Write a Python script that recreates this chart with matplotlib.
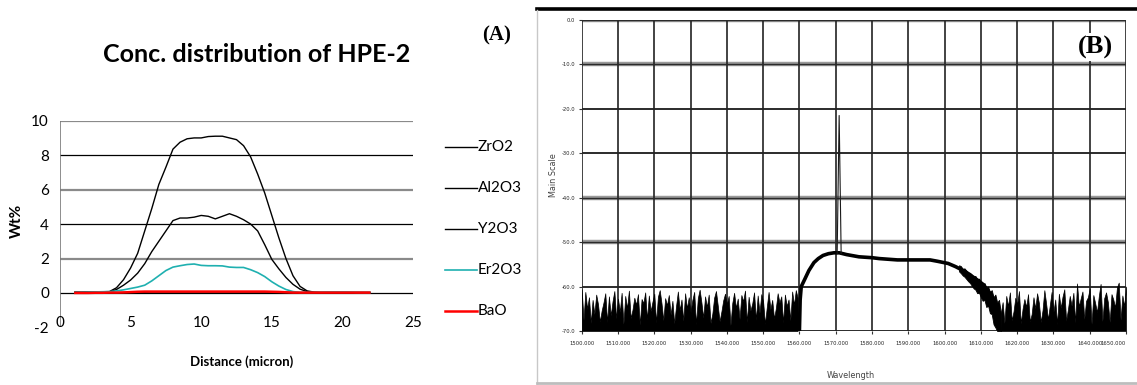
import matplotlib
matplotlib.use('Agg')
import matplotlib.pyplot as plt
from matplotlib.lines import Line2D
from matplotlib import font_manager
from matplotlib.transforms import ScaledTranslation

# ---------------- Panel A data ----------------
distance = [1.0, 1.5, 2.0, 2.5, 3.0, 3.5, 4.0, 4.5, 5.0, 5.5, 6.0, 6.5, 7.0, 7.5,
            8.0, 8.5, 9.0, 9.5, 10.0, 10.5, 11.0, 11.5, 12.0, 12.5, 13.0, 13.5,
            14.0, 14.5, 15.0, 15.5, 16.0, 16.5, 17.0, 17.5, 18.0, 18.5, 19.0,
            19.5, 20.0, 20.5, 21.0, 21.5, 22.0]
zro2 = [0.05, 0.05, 0.06, 0.06, 0.07, 0.08, 0.30, 0.77, 1.45, 2.3, 3.6, 4.9, 6.3, 7.3,
        8.35, 8.75, 8.95, 9.0, 9.0, 9.08, 9.1, 9.1, 9.0, 8.9, 8.55, 7.9,
        6.9, 5.8, 4.5, 3.2, 2.0, 1.0, 0.38, 0.12, 0.05, 0.03, 0.03,
        0.03, 0.03, 0.03, 0.03, 0.03, 0.03]
al2o3 = [0.02, 0.02, 0.03, 0.04, 0.05, 0.06, 0.20, 0.45, 0.75, 1.15, 1.7, 2.4, 3.0, 3.6,
         4.2, 4.35, 4.35, 4.4, 4.5, 4.45, 4.3, 4.45, 4.6, 4.45, 4.25, 4.0,
         3.6, 2.8, 1.95, 1.4, 0.9, 0.5, 0.22, 0.08, 0.03, 0.02, 0.02,
         0.02, 0.02, 0.02, 0.02, 0.02, 0.02]
y2o3 = [0.02, 0.02, 0.02, 0.02, 0.02, 0.02, 0.02, 0.03, 0.03, 0.04, 0.04, 0.05, 0.05, 0.05,
        0.05, 0.05, 0.05, 0.05, 0.05, 0.05, 0.05, 0.05, 0.05, 0.05, 0.05, 0.05,
        0.05, 0.05, 0.04, 0.04, 0.03, 0.03, 0.02, 0.02, 0.02, 0.02, 0.02,
        0.02, 0.02, 0.02, 0.02, 0.02, 0.02]
er2o3 = [0.02, 0.03, 0.05, 0.06, 0.07, 0.08, 0.12, 0.18, 0.26, 0.34, 0.45, 0.70, 1.0, 1.3,
         1.5, 1.58, 1.65, 1.68, 1.6, 1.58, 1.58, 1.57, 1.5, 1.48, 1.48, 1.35,
         1.18, 0.95, 0.65, 0.4, 0.2, 0.08, 0.03, 0.03, 0.04, 0.05, 0.06,
         0.06, 0.06, 0.05, 0.03, 0.02, 0.02]
bao = [0.0, 0.0, 0.0, 0.01, 0.01, 0.02, 0.02, 0.03, 0.05, 0.07, 0.08, 0.08, 0.08, 0.08,
       0.08, 0.08, 0.08, 0.08, 0.08, 0.08, 0.08, 0.08, 0.08, 0.08, 0.08, 0.08,
       0.08, 0.08, 0.07, 0.06, 0.04, 0.02, 0.02, 0.02, 0.02, 0.02, 0.02,
       0.02, 0.02, 0.02, 0.02, 0.02, 0.02]
series_names = ['ZrO2', 'Al2O3', 'Y2O3', 'Er2O3', 'BaO']
series_values = [zro2, al2o3, y2o3, er2o3, bao]
series_colors = ['#000000', '#000000', '#000000', '#1fb0b0', '#ff0000']
series_widths = [1.0, 1.0, 1.0, 1.2, 1.8]
a_yticks = [-2, 0, 2, 4, 6, 8, 10]
a_xticks = [0, 5, 10, 15, 20, 25]

# ---------------- Panel B data ----------------
b_xticks = [1500, 1510, 1520, 1530, 1540, 1550, 1560, 1570, 1580, 1590,
            1600, 1610, 1620, 1630, 1640, 1650]
b_yticks = [0, -10, -20, -30, -40, -50, -60, -70]
noise_step = 0.5
left_noise_start = 1500.0
left_noise = [-60.6, -67.5, -61.2, -65.0, -62.4, -68.2, -63.0, -66.2, -61.8, -64.0,
              -67.9, -65.4, -63.6, -61.5, -68.0, -62.2, -66.5, -63.3, -61.0, -67.2,
              -62.7, -65.7, -61.4, -68.4, -62.1, -64.9, -60.9, -67.1, -65.2, -62.5,
              -64.1, -61.7, -68.6, -62.8, -63.7, -61.3, -67.4, -62.0, -65.5, -63.4,
              -61.6, -68.1, -62.3, -60.8, -63.8, -67.6, -62.6, -64.2, -61.9, -66.3,
              -63.2, -68.3, -64.4, -61.1, -65.3, -62.9, -67.7, -61.5, -64.9, -62.4,
              -65.8, -63.0, -61.2, -68.5, -62.6, -60.7, -63.6, -67.0, -62.2, -64.6,
              -61.8, -68.2, -66.1, -62.5, -61.0, -64.3, -67.8, -65.6, -63.1, -61.6,
              -64.0, -62.1, -68.7, -63.7, -61.4, -64.8, -62.7, -67.3, -61.9, -63.3,
              -60.9, -68.0, -62.3, -65.4, -63.8, -61.3, -67.5, -62.0, -65.9, -61.7,
              -63.4, -68.4, -64.7, -61.2, -65.1, -63.0, -67.2, -64.9, -61.5, -63.6,
              -62.2, -68.1, -61.8, -64.4, -62.9, -67.6, -61.1, -64.1, -60.8, -62.5]
right_noise_start = 1615.5
right_noise = [-66.0, -63.5, -68.2, -62.1, -64.4, -61.3, -67.6, -65.6, -62.5, -64.0,
               -61.0, -68.3, -65.0, -62.8, -64.6, -61.7, -67.9, -66.2, -62.4, -64.9,
               -61.5, -63.7, -68.0, -65.3, -60.8, -63.9, -67.4, -64.2, -61.2, -65.7,
               -62.9, -68.5, -61.6, -64.8, -62.3, -60.6, -67.7, -65.1, -62.1, -64.3,
               -61.4, -68.1, -59.3, -64.5, -62.7, -61.1, -67.3, -63.2, -62.4, -60.4,
               -68.4, -61.9, -63.7, -65.8, -62.2, -59.4, -67.8, -62.6, -61.3, -63.5,
               -68.0, -61.7, -62.9, -64.7, -60.2, -59.1, -67.5, -62.0, -64.4, -60.0]
hump_wl = [1560.0, 1560.2, 1560.5, 1561.5, 1562.6, 1564.0, 1565.2, 1566.5, 1568.0,
           1569.5, 1571.0, 1573.0, 1576.4, 1580.0, 1582.0, 1587.0, 1592.0, 1596.0,
           1598.0, 1601.0, 1603.0, 1604.2, 1606.0, 1607.4, 1609.0, 1610.6, 1612.0,
           1613.2, 1614.0, 1614.8, 1615.3]
hump_db = [-70.0, -63.0, -60.0, -58.3, -56.4, -54.6, -53.7, -53.0, -52.6,
           -52.4, -52.4, -52.8, -53.3, -53.5, -53.7, -54.0, -54.0, -54.0,
           -54.3, -54.8, -55.5, -56.0, -56.8, -57.6, -58.5, -59.5, -61.0,
           -62.5, -64.0, -66.0, -70.0]
edge_wl = [1604.0, 1604.5, 1605.0, 1605.5, 1606.0, 1606.5, 1607.0, 1607.5, 1608.0,
           1608.5, 1609.0, 1609.5, 1610.0, 1610.5, 1611.0, 1611.5, 1612.0, 1612.5,
           1613.0, 1613.5, 1614.0, 1614.5, 1615.0, 1615.5]
edge_hi = [-55.2, -55.4, -56.0, -55.9, -56.4, -56.8, -56.9, -57.3, -57.8,
           -57.6, -58.5, -58.2, -59.0, -59.6, -59.2, -60.3, -60.0, -61.2,
           -60.8, -62.4, -61.8, -63.6, -63.0, -66.0]
edge_lo = [-56.6, -57.0, -57.5, -57.8, -58.3, -58.8, -59.2, -59.8, -60.4,
           -60.7, -61.5, -61.4, -62.4, -63.2, -63.0, -64.6, -64.3, -66.0,
           -66.2, -68.5, -69.2, -70.0, -70.0, -70.0]
spike_wl = [1570.4, 1570.95, 1571.5]
spike_db = [-52.6, -21.5, -52.6]

W, H = 1137, 385
fig = plt.figure(figsize=(W / 100, H / 100), dpi=100)
fig.patch.set_facecolor('white')

fa = 'Lato'

# ================= Panel A =================
axA = fig.add_axes([60 / W, 1 - 327.4 / H, 353 / W, (327.4 - 120.7) / H])
axA.set_xlim(0, 25)
axA.set_ylim(-2, 10)
for s in axA.spines.values():
    s.set_visible(False)
for v in [2, 4, 6, 8, 10]:
    if v in (4, 8):
        axA.axhline(v, color='#000000', lw=0.9, zorder=1)
    else:
        axA.axhline(v, color='#8a8a8a', lw=1.6, zorder=1)
axA.axhline(0, color='#000000', lw=0.9, zorder=1)
axA.axvline(0, color='#7a7a7a', lw=1.2, zorder=1)

for name, vals, c, lw in zip(series_names, series_values, series_colors, series_widths):
    axA.plot(distance, vals, color=c, lw=lw, zorder=3, solid_capstyle='butt')

axA.set_yticks(a_yticks)
axA.set_yticklabels([str(t) for t in a_yticks], fontfamily=fa, fontsize=11)
axA.tick_params(axis='y', length=0, pad=8)
axA.set_xticks([])
for t in a_xticks:
    axA.text(t, -1.72, str(t), ha='center', va='center', fontfamily=fa, fontsize=11)

fig.text(17 / W, 1 - 221 / H, 'Wt%', rotation=90, ha='center', va='center',
         fontfamily=fa, fontweight='bold', fontsize=11)
fig.text(242 / W, 1 - 362 / H, 'Distance (micron)', ha='center', va='center',
         fontfamily=fa, fontweight='bold', fontsize=9.5)
fig.text(257 / W, 1 - 54 / H, 'Conc. distribution of HPE-2', ha='center', va='center',
         fontfamily=fa, fontweight='bold', fontsize=18)
fig.text(497 / W, 1 - 35 / H, '(A)', ha='center', va='center',
         fontfamily='Liberation Serif', fontweight='bold', fontsize=15)

# legend (manual, Excel style)
for i, (name, c, lw) in enumerate(zip(series_names, series_colors, series_widths)):
    yy = 1 - (147 + i * 41) / H
    fig.add_artist(Line2D([445 / W, 477 / W], [yy, yy], color=c, lw=lw))
    fig.text(478 / W, yy, name, ha='left', va='center', fontfamily=fa, fontsize=11)

# ================= Panel B =================
narrow_path = None
for fe in font_manager.fontManager.ttflist:
    tag = (fe.name + ' ' + fe.fname).lower()
    if ('narrow' in tag or 'condensed' in tag) and 'bold' not in tag and 'italic' not in tag \
            and 'oblique' not in tag:
        narrow_path = fe.fname
        break
if narrow_path:
    fpB = font_manager.FontProperties(fname=narrow_path)
    tick_size = 4.2
else:
    fpB = font_manager.FontProperties(family='DejaVu Sans')
    tick_size = 3.7

# screenshot frame
fig.add_artist(Line2D([537 / W, 1.0], [1 - 8.5 / H, 1 - 8.5 / H], color='black', lw=2.6))
fig.add_artist(Line2D([536.5 / W, 536.5 / W], [0, 1 - 10 / H], color='#c8c8c8', lw=1.0))
fig.add_artist(Line2D([537 / W, 1.0], [1 - 382.5 / H, 1 - 382.5 / H], color='#bdbdbd', lw=2.0))

axB = fig.add_axes([581.7 / W, 1 - 331 / H, 544.3 / W, 311 / H])
axB.set_xlim(1500, 1650)
axB.set_ylim(-70, 0)
for s in axB.spines.values():
    s.set_visible(False)

for v in b_yticks:
    if v in (0, -10, -40, -50):
        axB.axhline(v, color='#9a9a9a', lw=3.2, zorder=1)
        axB.axhline(v, color='#2a2a2a', lw=1.0, zorder=1.1)
    else:
        axB.axhline(v, color='#1a1a1a', lw=1.3, zorder=1)
for t in b_xticks:
    axB.axvline(t, color='#222222', lw=1.2, zorder=1)

left_x = [left_noise_start + i * noise_step for i in range(len(left_noise))]
right_x = [right_noise_start + i * noise_step for i in range(len(right_noise))]
axB.fill_between(left_x, -70, left_noise, color='black', lw=0.5, zorder=3)
axB.fill_between(right_x, -70, right_noise, color='black', lw=0.5, zorder=3)
axB.fill_between(edge_wl, edge_lo, edge_hi, color='black', lw=0.6, zorder=3)
axB.plot(hump_wl, hump_db, color='black', lw=2.6, zorder=4)
axB.plot(spike_wl, spike_db, color='#1a1a1a', lw=0.8, zorder=4)

axB.set_xticks(b_xticks)
axB.set_xticklabels(['%.3f' % t for t in b_xticks], fontproperties=fpB, color='#262626')
axB.set_yticks(b_yticks)
axB.set_yticklabels(['%.1f' % t for t in b_yticks], fontproperties=fpB, color='#262626')
for lab in axB.get_xticklabels() + axB.get_yticklabels():
    lab.set_fontsize(tick_size)
xlabs = axB.get_xticklabels()
last = xlabs[-1]
last.set_horizontalalignment('right')
last.set_transform(last.get_transform() + ScaledTranslation(11 / 100, 0, fig.dpi_scale_trans))
prev = xlabs[-2]
prev.set_transform(prev.get_transform() + ScaledTranslation(-5 / 100, 0, fig.dpi_scale_trans))
axB.tick_params(axis='both', length=2.5, width=0.8, color='#333333', pad=2)
axB.tick_params(axis='x', pad=5)

fig.text(553 / W, 1 - 175 / H, 'Main Scale', rotation=90, ha='center', va='center',
         fontproperties=fpB, fontsize=6.5, color='#444444')
fig.text(851 / W, 1 - 376 / H, 'Wavelength', ha='center', va='center',
         fontproperties=fpB, fontsize=6.5, color='#444444')
fig.text(1095 / W, 1 - 47 / H, '(B)', ha='center', va='center',
         fontfamily='Liberation Serif', fontweight='bold', fontsize=19,
         bbox=dict(boxstyle='square,pad=0.08', facecolor='white', edgecolor='none'))

fig.savefig('out.png', dpi=100)
